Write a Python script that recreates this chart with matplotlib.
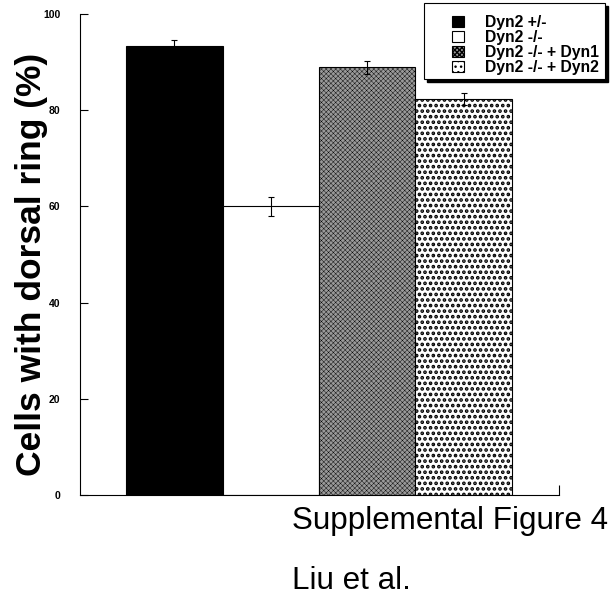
import matplotlib
matplotlib.use("Agg")
import matplotlib.pyplot as plt
from matplotlib.patches import Patch, Rectangle

# data
groups = ["Dyn2 +/-", "Dyn2 -/-", "Dyn2 -/- + Dyn1", "Dyn2 -/- + Dyn2"]
values = [93.3, 60.0, 88.9, 82.3]
errors = [1.2, 2.0, 1.3, 1.3]
yticks = [0, 20, 40, 60, 80, 100]

faces = ["black", "white", "#999999", "white"]
hatches = [None, None, "xxxxxxx", "..."]
hatch_lw = [1.0, 1.0, 0.3, 1.8]

plt.rcParams["font.family"] = ["Liberation Sans", "DejaVu Sans"]

W, H = 614, 596
fig = plt.figure(figsize=(6.14, 5.96), dpi=100)
ax = fig.add_axes([80 / W, 101 / H, 479 / W, 481 / H])

xs = list(range(len(values)))
bars = ax.bar(xs, values, width=1.0, color=faces, edgecolor="black",
              linewidth=0.8, zorder=2)
for b, h, lw in zip(bars, hatches, hatch_lw):
    if h:
        b.set_hatch(h)
        b.set_hatch_linewidth(lw)
ax.errorbar(xs, values, yerr=errors, fmt="none", ecolor="black",
            elinewidth=0.8, capsize=2.5, capthick=0.8, zorder=3)

ax.set_xlim(-0.979, 3.99)
ax.set_ylim(0, 100)
ax.set_yticks(yticks)
ax.set_yticklabels([str(t) for t in yticks], fontsize=7.5, fontweight="bold")
ax.tick_params(axis="y", direction="in", length=6, width=0.8, pad=14)
ax.set_xticks([3.99])
ax.set_xticklabels([""])
ax.tick_params(axis="x", direction="in", length=7, width=0.8)
for s in ["top", "right"]:
    ax.spines[s].set_visible(False)
for s in ["left", "bottom"]:
    ax.spines[s].set_linewidth(0.8)

fig.text(32 / W, 1 - 264 / H, "Cells with dorsal ring (%)", rotation=90,
         fontsize=25.5, fontweight="bold", ha="center", va="center")

# legend box with drop shadow
fig.patches.append(Rectangle((427 / W, 1 - 82 / H), 181 / W, 76 / H,
                             transform=fig.transFigure, facecolor="black",
                             edgecolor="black", zorder=5))
fig.patches.append(Rectangle((424 / W, 1 - 79 / H), 181 / W, 76 / H,
                             transform=fig.transFigure, facecolor="white",
                             edgecolor="black", linewidth=0.8, zorder=6))

handles = []
for f, h, lw in zip(faces, hatches, hatch_lw):
    p = Patch(facecolor=f, edgecolor="black", hatch=h, linewidth=0.8)
    handles.append(p)
leg = fig.legend(handles, groups, loc="upper left",
                 bbox_to_anchor=(452 / W, 1 - 15 / H), borderaxespad=0,
                 prop={"size": 11.3, "weight": "bold"}, labelspacing=0.0,
                 handlelength=0.75, handleheight=0.75, handletextpad=1.35,
                 borderpad=0, frameon=False)
leg.set_zorder(7)

fig.text(292 / W, 1 - 529 / H, "Supplemental Figure 4", fontsize=22.6,
         ha="left", va="baseline")
fig.text(292 / W, 1 - 589 / H, "Liu et al.", fontsize=22.6,
         ha="left", va="baseline")

fig.savefig("out.png", dpi=100)
